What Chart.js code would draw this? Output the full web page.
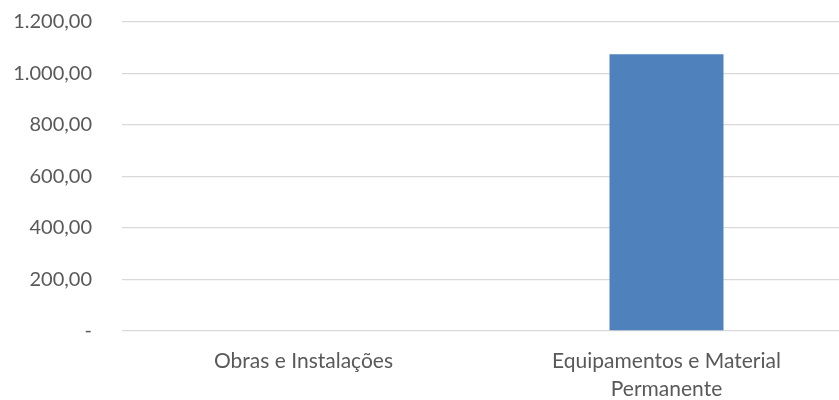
<!DOCTYPE html>
<html>
<head>
<meta charset="utf-8">
<script src="https://cdn.jsdelivr.net/npm/chart.js@4"></script>
<style>
  html, body { margin: 0; padding: 0; background: #fff; overflow: hidden; }
  #wrap { position: absolute; left: 0; top: 0; width: 848px; height: 400px; }
</style>
</head>
<body>
<div id="wrap"><canvas id="chart"></canvas></div>
<script>
const categories = [
  'Obras e Instalações',
  ['Equipamentos e Material', 'Permanente'],
];
const values = [0, 1075];
const yTicks = [0, 200, 400, 600, 800, 1000, 1200];

// pt-BR number format, zero shown as a dash
const fmt = (v) => {
  if (v === 0) return '-';
  const [i, d] = v.toFixed(2).split('.');
  return i.replace(/\B(?=(\d{3})+(?!\d))/g, '.') + ',' + d;
};

const config = {
  type: 'bar',
  data: {
    labels: categories,
    datasets: [
      {
        data: values,
        backgroundColor: '#4f81bd',
        categoryPercentage: 1,
        barPercentage: 0.314,
      },
    ],
  },
  options: {
    responsive: true,
    maintainAspectRatio: false,
    animation: false,
    layout: {
      padding: 0,
    },
    plugins: {
      legend: { display: false },
      tooltip: { enabled: false },
    },
    scales: {
      x: {
        grid: { display: false, drawTicks: false },
        border: { display: false },
        afterFit: (axis) => {
          axis.height = 69;
          axis.paddingTop = 0;
        },
        ticks: {
          color: '#595959',
          font: { family: 'Lato', size: 21, lineHeight: 1.3 },
          padding: 17,
          maxRotation: 0,
        },
      },
      y: {
        min: 0,
        max: 1200,
        afterBuildTicks: (axis) => {
          axis.ticks = yTicks.map((v) => ({ value: v }));
        },
        afterFit: (axis) => {
          axis.width = 122;
          axis.paddingTop = 22;
          axis.paddingBottom = 0;
        },
        grid: { color: '#d9d9d9', lineWidth: 1.3, drawTicks: false },
        border: { display: false },
        ticks: {
          color: '#595959',
          font: { family: 'Lato', size: 20 },
          padding: 30,
          callback: (v) => fmt(v),
        },
      },
    },
  },
};

new Chart(document.getElementById('chart'), config);
</script>
</body>
</html>
